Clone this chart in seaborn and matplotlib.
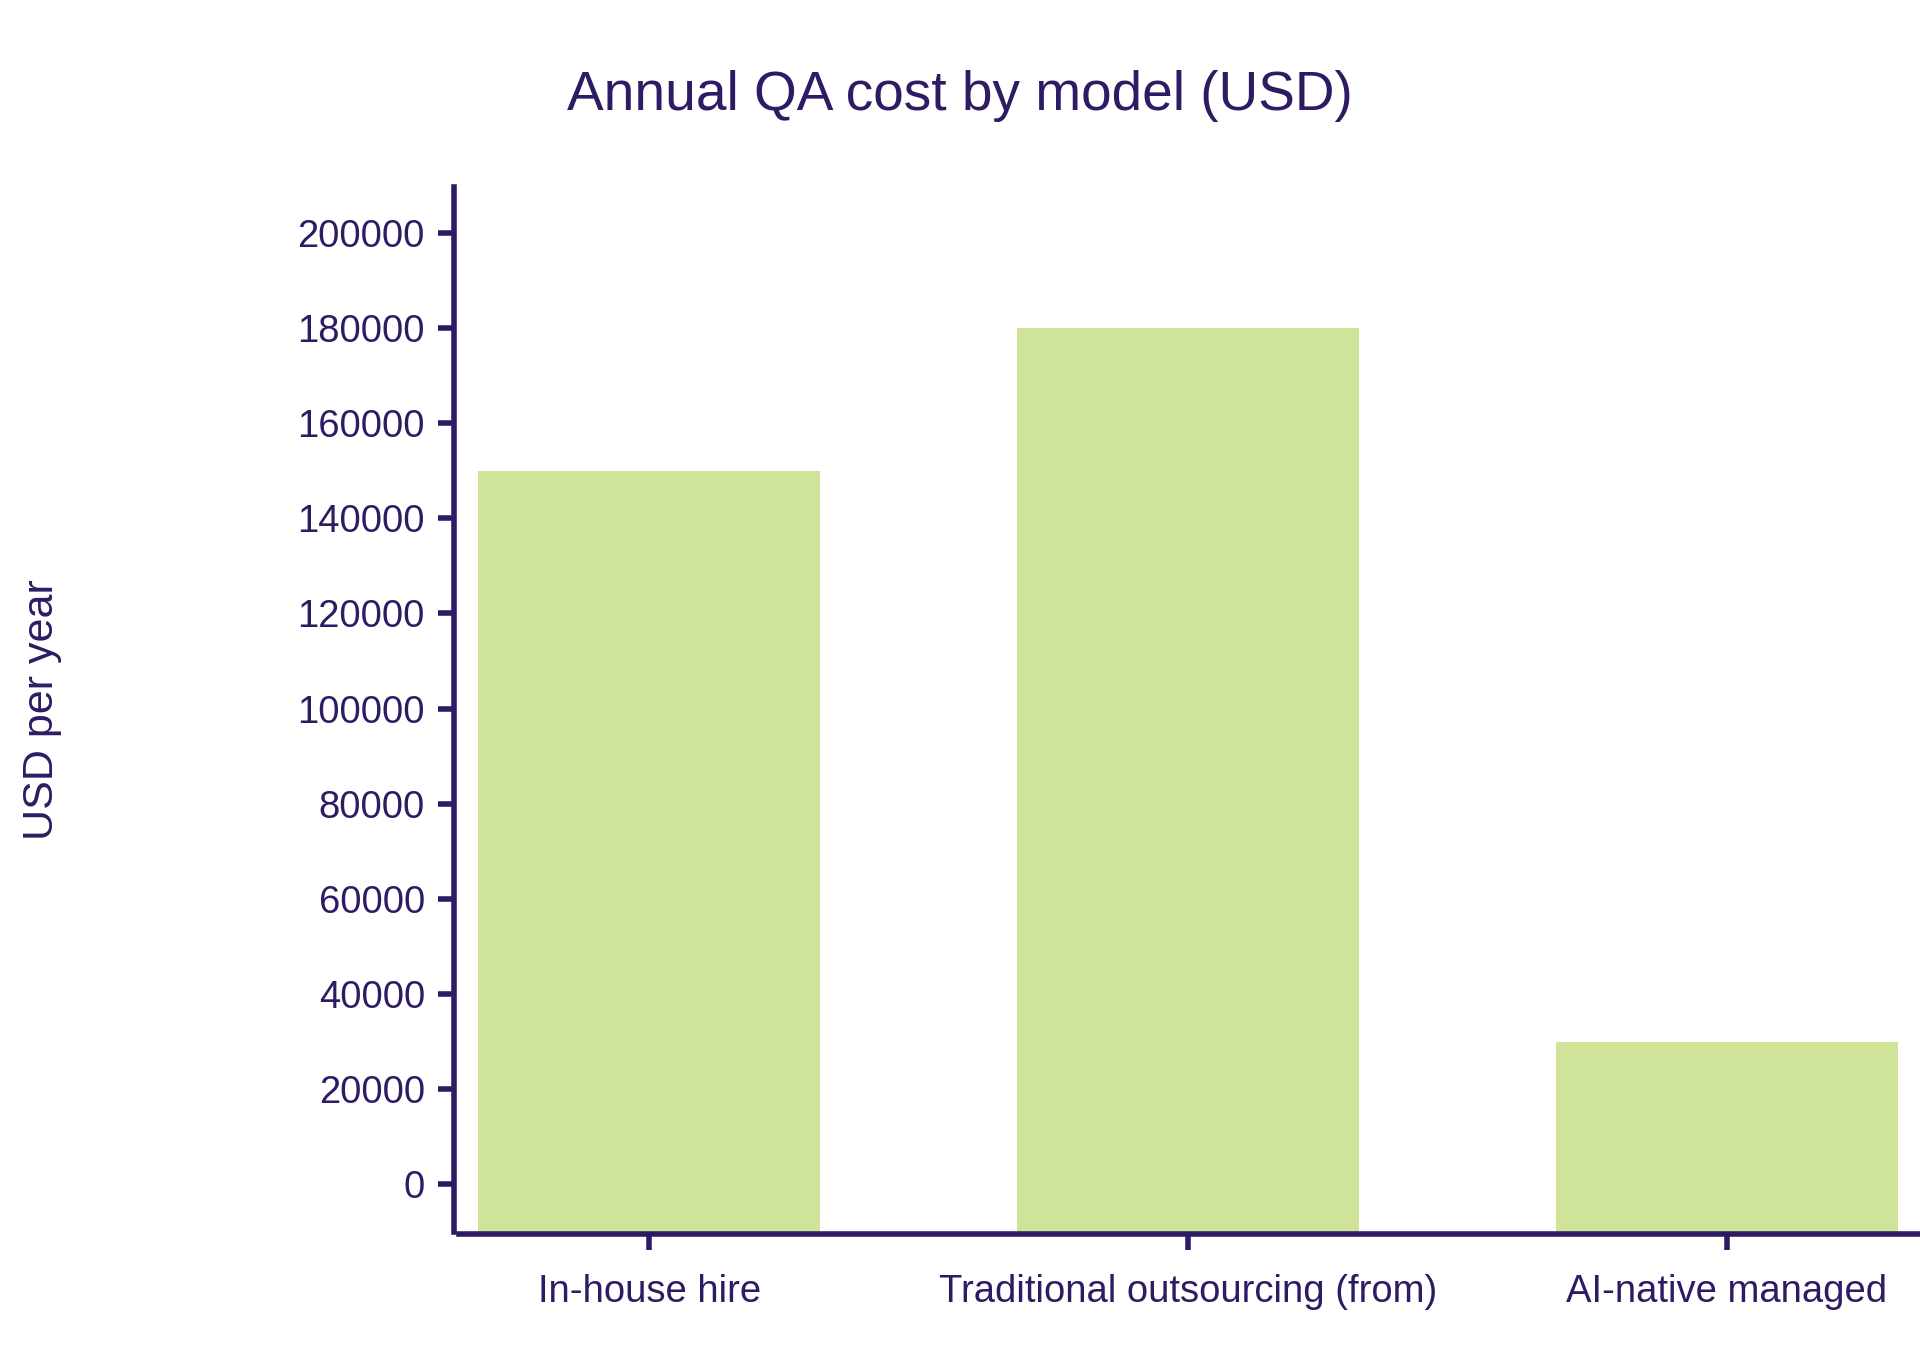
import matplotlib
matplotlib.use("Agg")
import matplotlib.pyplot as plt
import seaborn as sns
import pandas as pd

categories = ["In-house hire", "Traditional outsourcing (from)", "AI-native managed"]
costs = [150000, 180000, 30000]
yticks = [0, 20000, 40000, 60000, 80000, 100000, 120000, 140000, 160000, 180000, 200000]

title = "Annual QA cost by model (USD)"
ylabel = "USD per year"

DARK = "#2E1B63"
BAR = "#CFE399"

sns.set_theme(style="white")
plt.rcParams["font.family"] = ["Liberation Sans", "DejaVu Sans"]

df = pd.DataFrame({"model": categories, "cost": costs})

fig = plt.figure(figsize=(19.2, 13.71), dpi=100)
ax = fig.add_axes([0.2391, 0.1014, 0.7609, 0.7622])

sns.barplot(data=df, x="model", y="cost", color=BAR, saturation=1, width=0.633, ax=ax, linewidth=0)

ymin, ymax = -10000, 209600
ax.set_ylim(ymin, ymax)
ax.set_xlim(-0.3525, 2.358)

# bars visually start at the bottom of the plotting area
for p in ax.patches:
    top = p.get_y() + p.get_height()
    p.set_y(ymin)
    p.set_height(top - ymin)

ax.set_yticks(yticks)
ax.set_yticklabels([str(v) for v in yticks])

for side in ["top", "right"]:
    ax.spines[side].set_visible(False)
ax.spines["left"].set_position(("outward", 3.6))
ax.spines["bottom"].set_position(("outward", 1.5))
for side in ["left", "bottom"]:
    ax.spines[side].set_color(DARK)
    ax.spines[side].set_linewidth(4.0)

ax.tick_params(axis="both", colors=DARK, labelcolor=DARK, width=4.0, length=11.5, labelsize=27.5)
ax.tick_params(axis="y", pad=9.5, left=True)
ax.tick_params(axis="x", pad=17, bottom=True)

ax.set_xlabel("")
ax.set_ylabel(ylabel, fontsize=31, color=DARK)
ax.yaxis.set_label_coords(-0.2715, 0.5)

fig.suptitle(title, fontsize=39.6, color=DARK, x=0.5, y=0.930, va="center")

fig.savefig("out.png", dpi=100)
